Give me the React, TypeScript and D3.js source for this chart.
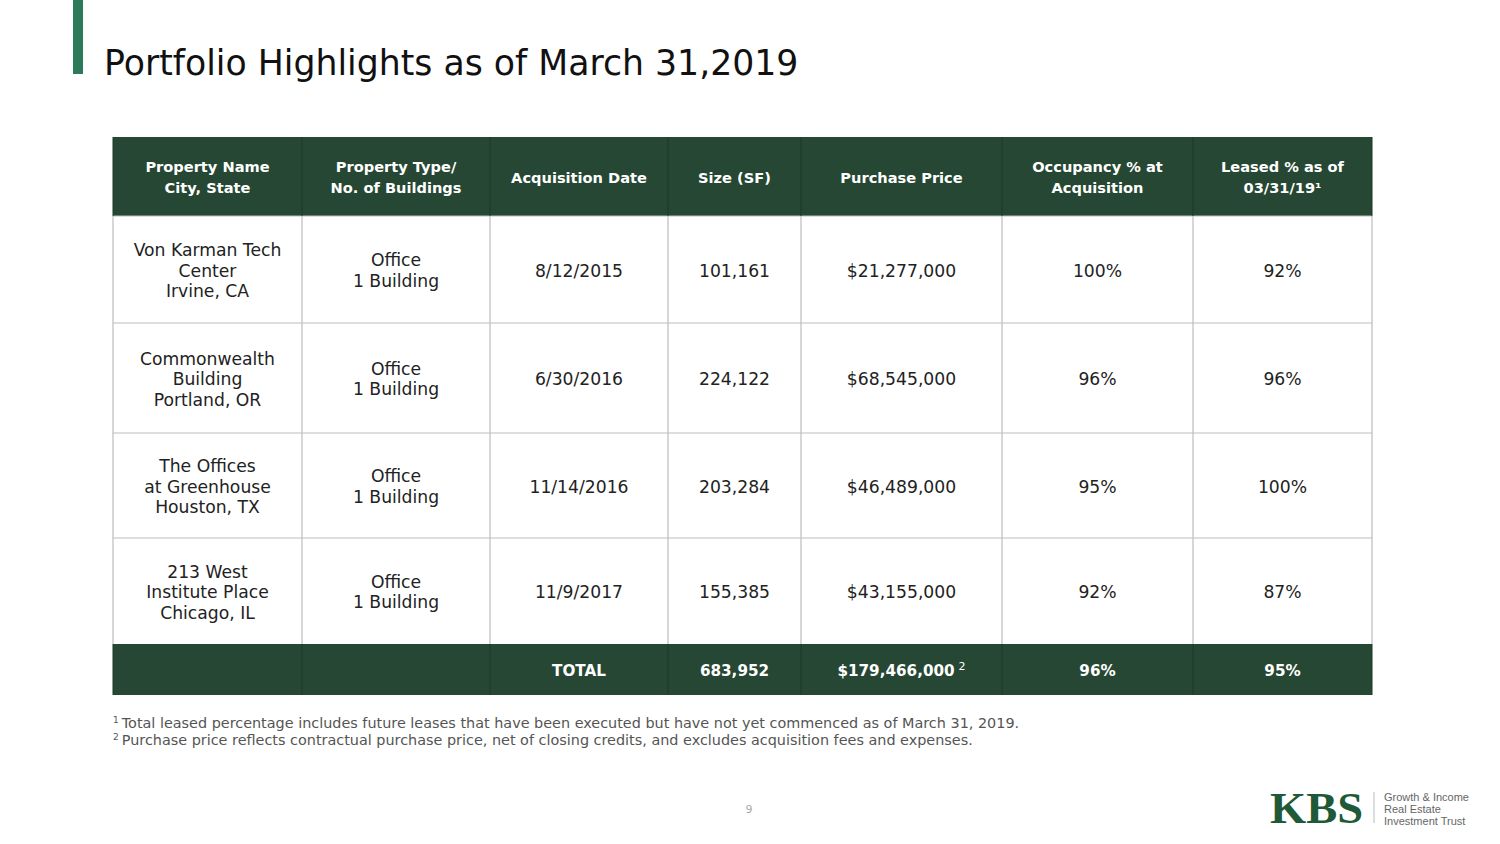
import React from 'react'
import * as d3 from 'd3'

const headers = [
  ['Property Name', 'City, State'],
  ['Property Type/', 'No. of Buildings'],
  ['Acquisition Date'],
  ['Size (SF)'],
  ['Purchase Price'],
  ['Occupancy % at', 'Acquisition'],
  ['Leased % as of', '03/31/19¹'],
]
const colWidths = [189, 188, 178, 133, 201, 191, 179]
const propertyNames = [
  ['Von Karman Tech', 'Center'],
  ['Commonwealth', 'Building'],
  ['The Offices', 'at Greenhouse'],
  ['213 West', 'Institute Place'],
]
const cities = ['Irvine, CA', 'Portland, OR', 'Houston, TX', 'Chicago, IL']
const propertyTypes = ['Office', 'Office', 'Office', 'Office']
const buildings = ['1 Building', '1 Building', '1 Building', '1 Building']
const acqDates = ['8/12/2015', '6/30/2016', '11/14/2016', '11/9/2017']
const sizes = [101161, 224122, 203284, 155385]
const prices = [21277000, 68545000, 46489000, 43155000]
const occupancy = [100, 96, 95, 92]
const leased = [92, 96, 100, 87]
const totalOccupancy = 96
const totalLeased = 95
const rowHeights = [79, 107, 110, 105, 106, 51]
const footnotes = [
  ['1', 'Total leased percentage includes future leases that have been executed but have not yet commenced as of March 31, 2019.'],
  ['2', 'Purchase price reflects contractual purchase price, net of closing credits, and excludes acquisition fees and expenses.'],
]

const GREEN = '#264733'
const FONT = '"Century Gothic", "DejaVu Sans", sans-serif'

export default function App() {
  const x0 = 113
  const y0 = 137
  const colEdges = [x0, ...Array.from(d3.cumsum(colWidths), (d) => x0 + d)]
  const rowEdges = [y0, ...Array.from(d3.cumsum(rowHeights), (d) => y0 + d)]
  const colX = d3.scaleOrdinal<number, number>().domain(d3.range(colWidths.length)).range(colEdges.slice(0, -1))
  const rowY = d3.scaleOrdinal<number, number>().domain(d3.range(rowHeights.length)).range(rowEdges.slice(0, -1))
  const cx = (i: number) => colX(i) + colWidths[i] / 2
  const cy = (j: number) => rowY(j) + rowHeights[j] / 2
  const fmt = d3.format(',')
  const money = (v: number) => '$' + fmt(v)

  const bodyRows = propertyNames.map((name, r) => [
    [...name, cities[r]],
    [propertyTypes[r], buildings[r]],
    [acqDates[r]],
    [fmt(sizes[r])],
    [money(prices[r])],
    [occupancy[r] + '%'],
    [leased[r] + '%'],
  ])

  const multi = (lines: string[], x: number, y: number, lineH: number, props: any, key: string) => (
    <text key={key} x={x} textAnchor="middle" {...props}>
      {lines.map((l, k) => (
        <tspan key={k} x={x} y={y + (k - (lines.length - 1) / 2) * lineH} dy="0.35em">{l}</tspan>
      ))}
    </text>
  )

  const tableRight = colEdges[colEdges.length - 1]
  const tableBottom = rowEdges[rowEdges.length - 1]

  return (
    <svg width={1500} height={844} style={{ position: 'absolute', left: 0, top: 0, background: '#fff' }} fontFamily={FONT}>
      <rect x={73} y={0} width={10} height={74} fill="#2c7a5a" />
      <text x={104} y={75} fontSize={34.7} fill="#111">Portfolio Highlights as of March 31,2019</text>

      {/* header and total bands */}
      <rect x={x0} y={rowY(0)} width={tableRight - x0} height={rowHeights[0]} fill={GREEN} />
      <rect x={x0} y={rowY(5)} width={tableRight - x0} height={rowHeights[5]} fill={GREEN} />
      {/* grid */}
      {rowEdges.slice(1, 5).map((y, i) => (
        <line key={'h' + i} x1={x0} x2={tableRight} y1={y} y2={y} stroke="#bdbdbd" strokeWidth={1.2} />
      ))}
      {colEdges.map((x, i) => (
        <g key={'v' + i}>
          <line x1={x} x2={x} y1={rowEdges[1]} y2={rowEdges[5]} stroke="#bdbdbd" strokeWidth={1.2} />
          <line x1={x} x2={x} y1={rowEdges[0]} y2={rowEdges[1]} stroke="#1d3828" strokeWidth={1} />
          <line x1={x} x2={x} y1={rowEdges[5]} y2={rowEdges[6]} stroke="#1d3828" strokeWidth={1} />
        </g>
      ))}

      {headers.map((h, i) => multi(h, cx(i), cy(0) + 1, 21, { fill: '#fff', fontSize: 14.6, fontWeight: 'bold' }, 'hd' + i))}

      {bodyRows.map((cells, r) =>
        cells.map((lines, c) => multi(lines, cx(c), cy(r + 1) + 1, 20.5, { fill: '#222', fontSize: 17.2 }, `c${r}-${c}`))
      )}

      {/* total row */}
      <g fill="#fff" fontSize={15.2} fontWeight="bold" textAnchor="middle">
        <text x={cx(2)} y={cy(5) + 1} dy="0.35em">TOTAL</text>
        <text x={cx(3)} y={cy(5) + 1} dy="0.35em">{fmt(d3.sum(sizes))}</text>
        <text x={cx(4)} y={cy(5) + 1} dy="0.35em">
          {money(d3.sum(prices))}
          <tspan fontWeight="normal" fontSize={11} dx={4} dy={-6}>2</tspan>
        </text>
        <text x={cx(5)} y={cy(5) + 1} dy="0.35em">{totalOccupancy}%</text>
        <text x={cx(6)} y={cy(5) + 1} dy="0.35em">{totalLeased}%</text>
      </g>

      {footnotes.map(([n, t], i) => (
        <text key={'fn' + i} x={x0} y={tableBottom + 33 + i * 17} fontSize={14.4} fill="#555">
          <tspan fontSize={9} dy={-5}>{n}</tspan>
          <tspan dx={3} dy={5}>{t}</tspan>
        </text>
      ))}

      <text x={749} y={813} fontSize={11} fill="#aaa" textAnchor="middle">9</text>

      {/* logo */}
      <text x={1270} y={823} fontFamily='"Liberation Serif", serif' fontWeight="bold" fontSize={44} fill="#1f5a38" textLength={93} lengthAdjust="spacingAndGlyphs">KBS</text>
      <line x1={1374} x2={1374} y1={792} y2={823} stroke="#bbb" strokeWidth={1} />
      {['Growth & Income', 'Real Estate', 'Investment Trust'].map((t, i) => (
        <text key={'lg' + i} x={1384} y={801 + i * 11.8} fontSize={11} fill="#666" fontFamily='"Liberation Sans", Arial, sans-serif'>{t}</text>
      ))}
    </svg>
  )
}
